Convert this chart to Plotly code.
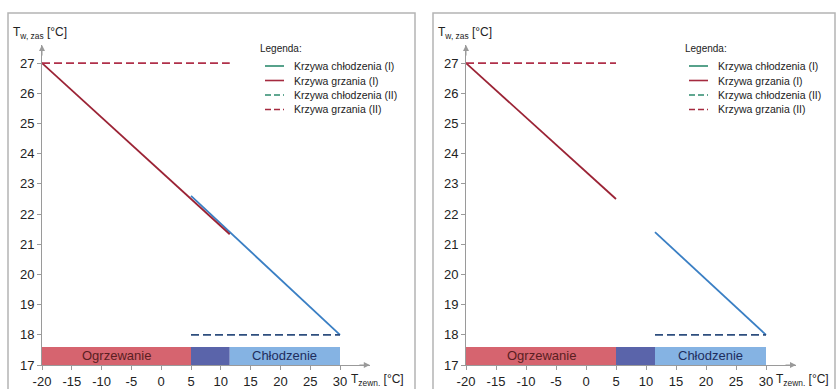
import plotly.graph_objects as go

W, H = 838, 389

# ---- data ----
x_ticks = [-20, -15, -10, -5, 0, 5, 10, 15, 20, 25, 30]
x_ticktext = ["-20", "-15", "-10", "-5", "0", "5", "10", "15", "20", "25", "30"]
y_ticks = [17, 18, 19, 20, 21, 22, 23, 24, 25, 26, 27]

# left panel
L_heat_I_x = [-20, 11.5]
L_heat_I_y = [27, 21.33]
L_cool_I_x = [5, 30]
L_cool_I_y = [22.6, 18]
L_heat_II_x = [-20, 11.5]
L_heat_II_y = [27, 27]
L_cool_II_x = [5, 30]
L_cool_II_y = [18, 18]

# right panel
R_heat_I_x = [-20, 5]
R_heat_I_y = [27, 22.5]
R_cool_I_x = [11.5, 30]
R_cool_I_y = [21.4, 18]
R_heat_II_x = [-20, 5]
R_heat_II_y = [27, 27]
R_cool_II_x = [11.5, 30]
R_cool_II_y = [18, 18]

band_start = [-20, 5, 11.5]
band_end = [5, 11.5, 30]
band_labels = ["Ogrzewanie", "", "Chłodzenie"]
band_top = 17.6

legend_title = "Legenda:"
legend_names = ["Krzywa chłodzenia (I)", "Krzywa grzania (I)",
                "Krzywa chłodzenia (II)", "Krzywa grzania (II)"]

# ---- style ----
FONT = "Arial, Liberation Sans, sans-serif"
C_HEAT = "#9b2335"
C_COOL = "#3a7fc4"
C_HEAT_D = "#b0304a"
C_COOL_D = "#2e4e7e"
C_LEG_COOL = "#2e8b6e"
C_LEG_HEAT = "#a52a3f"
BAND_COLORS = ["#d6646f", "#5a64aa", "#85b3e3"]
BAND_TEXT = ["#5a1e22", "#1e2e5e", "#1e2e5e"]
AX = "#9a9a9a"
TXT = "#222222"
DASH = "8px,4px"
LEG_DASH = "6px,3px"

fig = go.Figure()

panels = [
    dict(xa="x", ya="y",
         data=[(L_cool_I_x, L_cool_I_y, C_COOL, "solid"),
               (L_heat_I_x, L_heat_I_y, C_HEAT, "solid"),
               (L_cool_II_x, L_cool_II_y, C_COOL_D, DASH),
               (L_heat_II_x, L_heat_II_y, C_HEAT_D, DASH)],
         leg_title=(258, 48), leg_line=(265, 284), leg_text=292),
    dict(xa="x2", ya="y2",
         data=[(R_cool_I_x, R_cool_I_y, C_COOL, "solid"),
               (R_heat_I_x, R_heat_I_y, C_HEAT, "solid"),
               (R_cool_II_x, R_cool_II_y, C_COOL_D, DASH),
               (R_heat_II_x, R_heat_II_y, C_HEAT_D, DASH)],
         leg_title=(683, 48), leg_line=(689, 708), leg_text=716),
]
leg_rows = [66, 80.5, 95, 109.5]
leg_cols = [C_LEG_COOL, C_LEG_HEAT, C_LEG_COOL, C_LEG_HEAT]
leg_dash = ["solid", "solid", LEG_DASH, LEG_DASH]

shapes = []
annotations = []

for p in panels:
    # bands
    for s, e, c in zip(band_start, band_end, BAND_COLORS):
        shapes.append(dict(type="rect", xref=p["xa"], yref=p["ya"],
                           x0=s, x1=e, y0=17, y1=band_top,
                           fillcolor=c, line=dict(width=0), layer="below"))
    for s, e, t, tc in zip(band_start, band_end, band_labels, BAND_TEXT):
        if t:
            annotations.append(dict(xref=p["xa"], yref=p["ya"], x=(s + e) / 2,
                                    y=(17 + band_top) / 2, text=t, showarrow=False,
                                    font=dict(family=FONT, size=13, color=tc)))
    # curves
    for (xs, ys, col, dash) in p["data"]:
        fig.add_trace(go.Scatter(x=xs, y=ys, mode="lines", xaxis=p["xa"], yaxis=p["ya"],
                                 line=dict(color=col, width=1.8, dash=dash),
                                 showlegend=False, hoverinfo="skip"))
    # legend (drawn as text + sample lines)
    tx, ty = p["leg_title"]
    annotations.append(dict(xref="paper", yref="paper", x=tx / W, y=1 - ty / H,
                            xanchor="left", yanchor="middle", showarrow=False,
                            text=legend_title, font=dict(family=FONT, size=10, color=TXT)))
    lx0, lx1 = p["leg_line"]
    for name, col, dash, ry in zip(legend_names, leg_cols, leg_dash, leg_rows):
        shapes.append(dict(type="line", xref="paper", yref="paper",
                           x0=lx0 / W, x1=lx1 / W, y0=1 - ry / H, y1=1 - ry / H,
                           line=dict(color=col, width=1.6, dash=dash)))
        annotations.append(dict(xref="paper", yref="paper", x=p["leg_text"] / W,
                                y=1 - ry / H, xanchor="left", yanchor="middle",
                                showarrow=False, text=name,
                                font=dict(family=FONT, size=10.5, color=TXT)))
    # axis arrows
    annotations.append(dict(xref=p["xa"], yref=p["ya"], axref=p["xa"], ayref=p["ya"],
                            x=35, y=17, ax=33, ay=17, text="", showarrow=True,
                            arrowhead=2, arrowsize=1.2, arrowwidth=1, arrowcolor=AX))
    annotations.append(dict(xref=p["xa"], yref=p["ya"], axref=p["xa"], ayref=p["ya"],
                            x=-20, y=27.6, ax=-20, ay=27.2, text="", showarrow=True,
                            arrowhead=2, arrowsize=1.2, arrowwidth=1, arrowcolor=AX))

# panel frames
for x0, x1 in [(8, 415), (433, 835)]:
    shapes.append(dict(type="rect", xref="paper", yref="paper",
                       x0=x0 / W, x1=x1 / W, y0=-0.05, y1=1 - 13 / H,
                       line=dict(color="#b4b4b4", width=1.5), fillcolor="rgba(0,0,0,0)",
                       layer="below"))

# axis titles
for xpx in [11, 436]:
    annotations.append(dict(xref="paper", yref="paper", x=xpx / W, y=1 - 33 / H,
                            xanchor="left", yanchor="middle", showarrow=False,
                            text="T<sub>w, zas</sub> [°C]",
                            font=dict(family=FONT, size=12, color=TXT)))
for xpx in [349, 774]:
    annotations.append(dict(xref="paper", yref="paper", x=xpx / W, y=1 - 380 / H,
                            xanchor="left", yanchor="middle", showarrow=False,
                            text="T<sub>zewn.</sub> [°C]",
                            font=dict(family=FONT, size=12, color=TXT)))

ydom = [1 - 365 / H, 1 - 45 / H]
xcommon = dict(range=[-20, 35], tickvals=x_ticks, ticktext=x_ticktext,
               showgrid=False, zeroline=False,
               showline=True, linecolor=AX, linewidth=1, ticks="outside", ticklen=4,
               tickcolor=AX, tickfont=dict(family=FONT, size=13, color=TXT),
               automargin=False)
ycommon = dict(range=[17, 27.6], tickvals=y_ticks, showgrid=False, zeroline=False,
               showline=True, linecolor=AX, linewidth=1, ticks="outside", ticklen=4,
               tickcolor=AX, tickfont=dict(family=FONT, size=13, color=TXT),
               domain=ydom, automargin=False)

fig.update_layout(
    width=W, height=H, margin=dict(l=0, r=0, t=0, b=0, pad=0, autoexpand=False),
    paper_bgcolor="white", plot_bgcolor="rgba(0,0,0,0)",
    xaxis=dict(xcommon, domain=[42 / W, (42 + 55 * 5.96) / W], anchor="y"),
    yaxis=dict(ycommon, anchor="x"),
    xaxis2=dict(xcommon, domain=[466 / W, (466 + 55 * 6.0) / W], anchor="y2"),
    yaxis2=dict(ycommon, anchor="x2"),
    shapes=shapes, annotations=annotations, showlegend=False,
)

fig.write_html("out.html", config={"displayModeBar": False},
               post_script="document.body.style.margin='0';document.body.style.overflow='hidden';")
